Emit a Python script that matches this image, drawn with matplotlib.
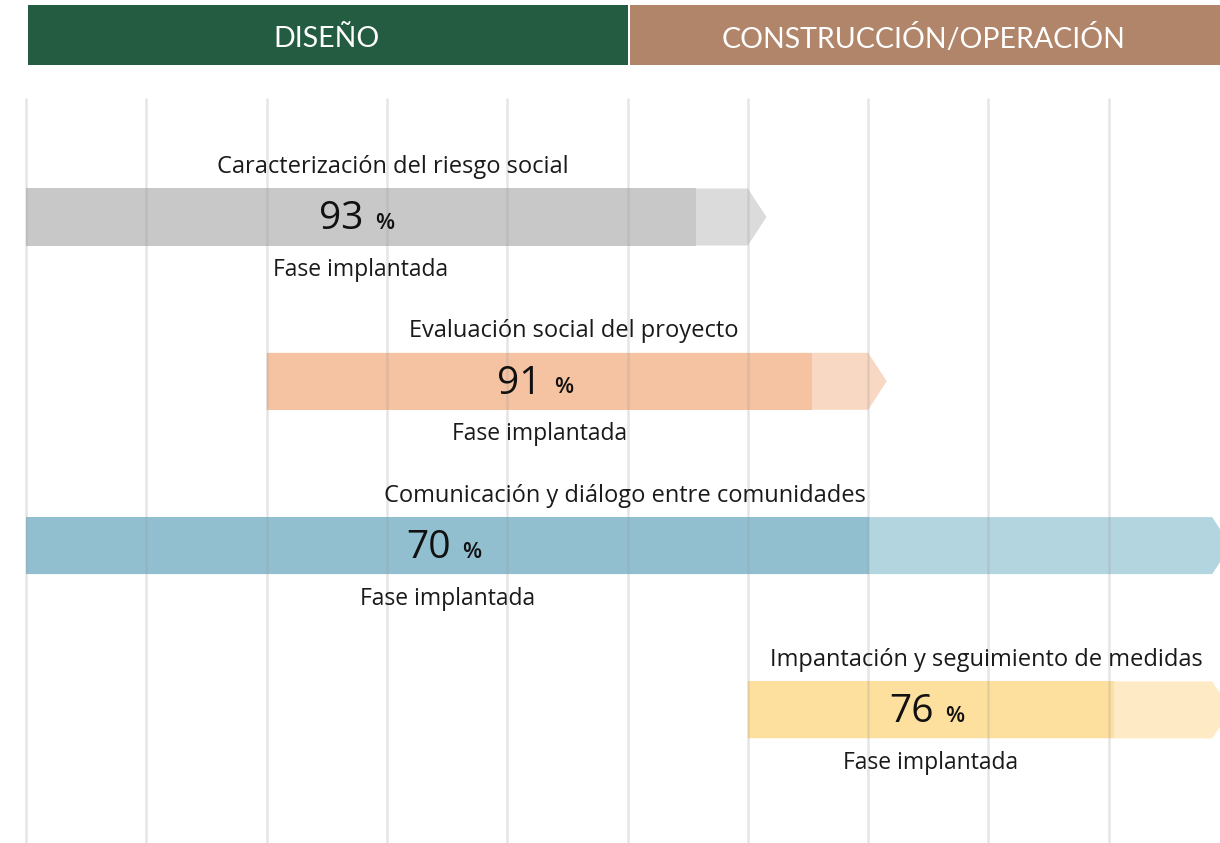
import matplotlib
matplotlib.use('Agg')
import matplotlib.pyplot as plt
from matplotlib.patches import Polygon, Rectangle
from matplotlib.transforms import offset_copy

plt.rcParams['font.family'] = ['Open Sans', 'DejaVu Sans']

#%% Datos
fases = ['DISEÑO', 'CONSTRUCCIÓN/OPERACIÓN']
fase_ini = [0, 5]
fase_fin = [5, 10]
fase_color = ['#235C40', '#B1856A']

etapas = ['Caracterización del riesgo social',
          'Evaluación social del proyecto',
          'Comunicación y diálogo entre comunidades',
          'Impantación y seguimiento de medidas']
inicio = [0, 2, 0, 6]             # en columnas de la rejilla
fin = [6, 7, 9.86, 9.86]
avance_fin = [5.57, 6.53, 7.01, 9.04]
porcentaje = [93, 91, 70, 76]
color_fuerte = ['#C8C8C8', '#F5C3A2', '#92BFD0', '#FDDF9E']
color_suave = ['#DBDBDB', '#F9D8C3', '#B3D5DF', '#FEEAC5']

#%% Figura
fig = plt.figure(figsize=(12.2, 8.43), dpi=100)
ax = fig.add_axes([0, 0, 1, 1])
ax.set_xlim(-0.2161, 9.925)
ax.set_ylim(3.810, -1.3207)
ax.axis('off')

alto = 0.347
punta = 0.155
txt = '#1A1A1A'

# cabecera de fases
for f, a, b, c in zip(fases, fase_ini, fase_fin, fase_color):
    ax.add_patch(Rectangle((a + 0.017, -1.29), b - a - 0.017, 0.365,
                           color=c, lw=0, zorder=1))
    xm = (a + min(b, ax.get_xlim()[1])) / 2
    ax.text(xm, -1.085, f, color='white', ha='center', va='center',
            fontsize=20.5, fontfamily=['Lato', 'DejaVu Sans'], zorder=2)

# barras
for i, (et, a, b, av, p, cf, cs) in enumerate(zip(etapas, inicio, fin, avance_fin,
                                                    porcentaje, color_fuerte, color_suave)):
    y0, y1 = i - alto / 2, i + alto / 2
    ax.add_patch(Polygon([(a, y0), (b, y0), (b + punta, i), (b, y1), (a, y1)],
                         closed=True, color=cs, lw=0, zorder=1))
    ax.add_patch(Rectangle((a, y0), av - a, alto, color=cf, lw=0, zorder=2))

    ax.text((a + b) / 2 + 0.05, y0 - 0.13, et, ha='center', va='center',
            fontsize=17, color=txt, zorder=4)
    xc = (a + av) / 2
    ax.text(xc, y1 + 0.15, 'Fase implantada', ha='center', va='center',
            fontsize=16.5, color=txt, zorder=4)
    ax.text(xc, i + 0.015, str(p), ha='right', va='center',
            fontsize=28, color='#111111', zorder=4,
            transform=offset_copy(ax.transData, fig=fig, x=2, units='points'))
    ax.text(xc, i + 0.04, '%', ha='left', va='center',
            fontsize=16, fontweight='semibold', color='#111111', zorder=4,
            transform=offset_copy(ax.transData, fig=fig, x=10.5, units='points'))

# rejilla vertical
for k in range(10):
    ax.plot([k, k], [-0.724, 3.81], color='#999999', alpha=0.25, lw=1.8,
            solid_capstyle='butt', zorder=3)

plt.savefig('out.png', dpi=100)
